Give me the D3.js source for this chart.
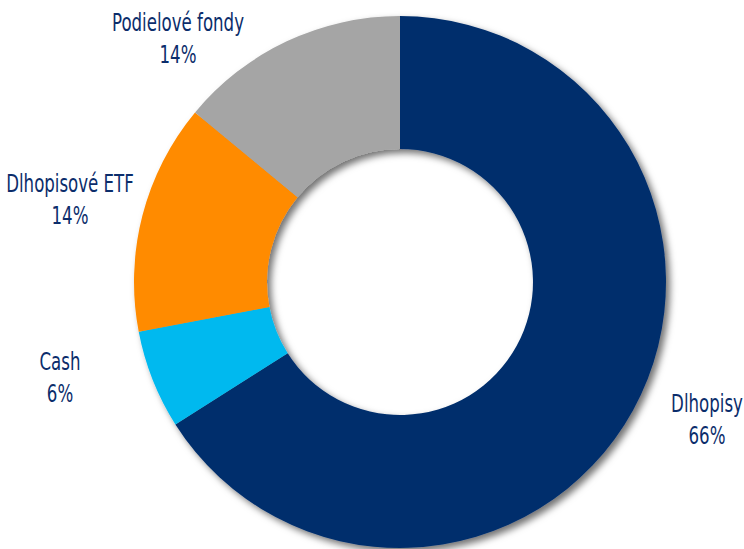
<!DOCTYPE html>
<html>
<head>
<meta charset="utf-8">
<script src="https://cdn.jsdelivr.net/npm/d3@7"></script>
<style>
  body { margin: 0; background: #fff; }
  svg { display: block; }
  .lbl { font-family: "DejaVu Sans Condensed", "DejaVu Sans", sans-serif; font-size: 24px; fill: #0b2d6b; }
</style>
</head>
<body>
<span></span>
<script>
// asset split donut

var categories = ["Dlhopisy", "Cash", "Dlhopisové ETF", "Podielové fondy"];
var values = [66, 6, 14, 14];
var colors = ["#002f6c", "#00b9ef", "#ff8b00", "#a5a5a5"];

var width = 744, height = 549;
var cx = 400, cy = 282;
var outerR = 266, innerR = 133;

// where the labels sit (centre of the two-line block)
var labelAt = [[707, 419], [60, 377], [70, 199], [178, 38]];

var data = categories.map(function(c, i) {
    return {name: c, value: values[i], color: colors[i]};
});

var svg = d3.select("span")
    .append("svg")
    .attr("width", width)
    .attr("height", height);

var defs = svg.append("defs");
var f = defs.append("filter")
    .attr("id", "shadow")
    .attr("x", "-20%").attr("y", "-20%")
    .attr("width", "140%").attr("height", "140%");
f.append("feDropShadow")
    .attr("dx", 4).attr("dy", 4)
    .attr("stdDeviation", 3.5)
    .attr("flood-color", "#000")
    .attr("flood-opacity", 0.55);

var pie = d3.pie()
    .sort(null)
    .value(d => d.value);

var arc = d3.arc()
    .innerRadius(innerR)
    .outerRadius(outerR);

var arcs = pie(data);

svg.append("g")
    .attr("transform", `translate(${cx}, ${cy})`)
    .attr("filter", "url(#shadow)")
    .selectAll("path")
    .data(arcs)
    .join("path")
    .attr("d", arc)
    .attr("fill", d => d.data.color);

// labels: font is squeezed horizontally to look like the narrow original
var lbl = svg.append("g")
    .selectAll("text")
    .data(arcs)
    .join("text")
    .attr("class", "lbl")
    .attr("text-anchor", "middle");

lbl.append("tspan")
    .attr("x", 0)
    .attr("y", -7)
    .text(d => d.data.name);
lbl.append("tspan")
    .attr("x", 0)
    .attr("dy", 32)
    .text(d => d.data.value + "%");

// "Podielové fondy" is ~132px wide in the original
var ref = lbl.filter((d, i) => i == 3).select("tspan").node().getComputedTextLength();
var sx = 132 / ref;

lbl.attr("transform", (d, i) => `translate(${labelAt[i][0]}, ${labelAt[i][1]}) scale(${sx}, 1)`);
</script>
</body>
</html>
